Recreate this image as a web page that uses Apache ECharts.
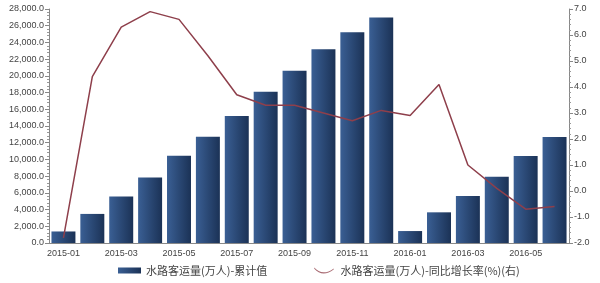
<!DOCTYPE html>
<html><head><meta charset="utf-8">
<script src="https://cdn.jsdelivr.net/npm/echarts@6/dist/echarts.min.js"></script>
<style>html,body{margin:0;padding:0;background:#fff}#c{width:600px;height:283px}</style>
</head><body><div id="c"></div>
<script>
var categories = ['2015-01','2015-02','2015-03','2015-04','2015-05','2015-06','2015-07','2015-08','2015-09','2015-10','2015-11','2015-12','2016-01','2016-02','2016-03','2016-04','2016-05','2016-06'];
var cumulative = [1380,3480,5560,7830,10440,12710,15190,18100,20620,23180,25220,26970,1430,3670,5620,7930,10410,12680];
var yoyGrowth = [-1.8,4.4,6.3,6.9,6.6,5.2,3.7,3.3,3.3,3.0,2.7,3.1,2.9,4.1,1.0,0.1,-0.7,-0.6];
var leftTicks = {min:0, max:28000, interval:2000};
var rightTicks = {min:-2, max:7, interval:1};
var seriesNames = ['水路客运量(万人)-累计值','水路客运量(万人)-同比增长率(%)(右)'];

var chart = echarts.init(document.getElementById('c'));
var axisLabel = {color:'#444', fontSize:9, fontFamily:'Liberation Sans, Arial'};
chart.setOption({
  animation:false,
  grid:{left:49,right:31,top:9,bottom:40},
  legend:{
    left:113, top:260, itemGap:47, itemWidth:23, itemHeight:6,
    textStyle:{fontSize:11,color:'#444',fontFamily:'Noto Sans CJK SC'},
    data:[{name:seriesNames[0], icon:'rect'},
          {name:seriesNames[1], icon:'path://M0,0 C6,7 14,7 22,1 L22,2.4 C14,8.4 6,8.4 0,1.4 Z', itemStyle:{color:'#a86a72'}}]
  },
  xAxis:{
    type:'category', data:categories,
    axisLine:{lineStyle:{color:'#888'}},
    axisTick:{alignWithLabel:true, interval:0, length:3, lineStyle:{color:'#888'}},
    axisLabel:Object.assign({interval:1, margin:6}, axisLabel)
  },
  yAxis:[{
    type:'value', min:leftTicks.min, max:leftTicks.max, interval:leftTicks.interval,
    axisLine:{show:true, lineStyle:{color:'#888'}},
    axisTick:{show:true, length:4, lineStyle:{color:'#888'}},
    minorTick:{show:true, splitNumber:5, length:2, lineStyle:{color:'#999'}},
    splitLine:{show:false},
    axisLabel:Object.assign({formatter:function(v){return v.toLocaleString('en-US',{minimumFractionDigits:1,maximumFractionDigits:1});}, margin:5}, axisLabel)
  },{
    type:'value', min:rightTicks.min, max:rightTicks.max, interval:rightTicks.interval,
    axisLine:{show:true, lineStyle:{color:'#888'}},
    axisTick:{show:true, length:4, lineStyle:{color:'#888'}},
    minorTick:{show:true, splitNumber:5, length:2, lineStyle:{color:'#999'}},
    splitLine:{show:false},
    axisLabel:Object.assign({formatter:function(v){return v.toFixed(1);}, margin:5}, axisLabel)
  }],
  series:[{
    name:seriesNames[0], type:'bar', data:cumulative, barCategoryGap:'17%',
    itemStyle:{color:new echarts.graphic.LinearGradient(0,0,1,0,[{offset:0,color:'#3a5f94'},{offset:1,color:'#1b3256'}])}
  },{
    name:seriesNames[1], type:'line', yAxisIndex:1, data:yoyGrowth, symbol:'none',
    lineStyle:{color:'#8e3f4b', width:1.5}, itemStyle:{color:'#8e3f4b'}
  }]
});
</script></body></html>
